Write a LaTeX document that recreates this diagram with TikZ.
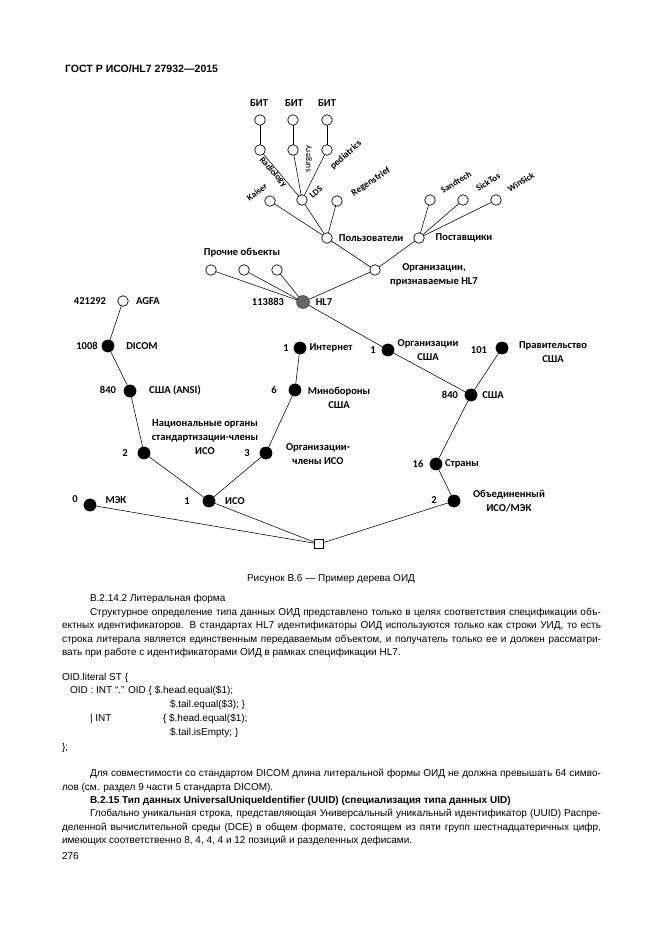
\documentclass[tikz,border=0pt]{standalone}
\usepackage{fontspec}
\setmainfont{Liberation Sans}
\newfontfamily\carl{Carlito}
\begin{document}
\begin{tikzpicture}[x=0.9pt,y=-0.9pt,
  every node/.style={inner sep=0pt,outer sep=0pt},
  bn/.style={circle,fill=black,minimum size=11.5pt},
  on/.style={circle,draw,fill=white,line width=0.6pt,minimum size=9.5pt},
  gn/.style={circle,fill=black!60,draw=black!75,line width=0.6pt,minimum size=11.5pt},
  rt/.style={rectangle,draw,fill=white,line width=0.6pt,minimum size=8.5pt},
  lb/.style={font=\carl\bfseries\fontsize{9.5}{12.5}\selectfont,align=center},
  rl/.style={font=\carl\bfseries\fontsize{8}{8}\selectfont},
  txt/.style={font=\fontsize{9}{11}\selectfont,anchor=base west},
  ed/.style={line width=0.5pt}]
\fill[white] (0,0) rectangle (661,935);
\useasboundingbox (0,0) rectangle (661,935);

% header
\node[txt,font=\bfseries\fontsize{9.5}{11}\selectfont] (hdr) at (65,72) {ГОСТ Р ИСО/HL7 27932—2015};

% ---- tree nodes ----
\node[on] (b1) at (260,120) {};
\node[on] (b2) at (293,120) {};
\node[on] (b3) at (327,120) {};
\node[on] (r1) at (260,150) {};
\node[on] (r2) at (293,150) {};
\node[on] (r3) at (327,150) {};
\node[on] (kai) at (270,201) {};
\node[on] (lds) at (302,200) {};
\node[on] (reg) at (337,201) {};
\node[on] (usr) at (327,238) {};
\node[on] (ven) at (419,238) {};
\node[on] (v1) at (430,200) {};
\node[on] (v2) at (463,200) {};
\node[on] (v3) at (496,200) {};
\node[on] (org) at (375,270) {};
\node[on] (p1) at (211,270) {};
\node[on] (p2) at (244,270) {};
\node[on] (p3) at (277,270) {};
\node[gn] (hl7) at (303,302) {};
\node[on] (agfa) at (123,301) {};
\node[bn] (dicom) at (108,346) {};
\node[bn] (ansi) at (130,391) {};
\node[bn] (nat) at (144,453) {};
\node[bn] (iso) at (209,501) {};
\node[bn] (iec) at (90,505) {};
\node[rt] (root) at (319,544) {};
\node[bn] (inet) at (300,348) {};
\node[bn] (dod) at (295,390) {};
\node[bn] (orgm) at (266,453) {};
\node[bn] (orgus) at (388,350) {};
\node[bn] (gov) at (502,348) {};
\node[bn] (us) at (471,395) {};
\node[bn] (ctr) at (436,464) {};
\node[bn] (joint) at (454,501) {};

% ---- edges ----
\draw[ed] (b1) -- (r1);
\draw[ed] (b2) -- (r2);
\draw[ed] (b3) -- (r3);
\draw[ed] (r1) -- (lds);
\draw[ed] (r2) -- (lds);
\draw[ed] (r3) -- (lds);
\draw[ed] (kai) -- (usr);
\draw[ed] (lds) -- (usr);
\draw[ed] (reg) -- (usr);
\draw[ed] (v1) -- (ven);
\draw[ed] (v2) -- (ven);
\draw[ed] (v3) -- (ven);
\draw[ed] (usr) -- (org);
\draw[ed] (ven) -- (org);
\draw[ed] (org) -- (hl7);
\draw[ed] (p1) -- (hl7);
\draw[ed] (p2) -- (hl7);
\draw[ed] (p3) -- (hl7);
\draw[ed] (hl7) -- (orgus);
\draw[ed] (orgus) -- (us);
\draw[ed] (gov) -- (us);
\draw[ed] (us) -- (ctr);
\draw[ed] (ctr) -- (joint);
\draw[ed] (joint) -- (root);
\draw[ed] (iso) -- (root);
\draw[ed] (iec) -- (root);
\draw[ed] (nat) -- (iso);
\draw[ed] (orgm) -- (iso);
\draw[ed] (ansi) -- (nat);
\draw[ed] (dicom) -- (ansi);
\draw[ed] (agfa) -- (dicom);
\draw[ed] (inet) -- (dod);
\draw[ed] (dod) -- (orgm);

% ---- labels ----
\node[lb] (lb1) at (259,103) {БИТ};
\node[lb] (lb2) at (294,103) {БИТ};
\node[lb] (lb3) at (327,103) {БИТ};
\node[rl,rotate=-48] (lrad) at (273,172) {Radiology};
\node[font=\carl\fontsize{8}{8}\selectfont,rotate=90] (lsur) at (309,159) {surgery};
\node[rl,rotate=42,font=\carl\bfseries\fontsize{8.5}{8.5}\selectfont] (lped) at (346,155) {pediatrics};
\node[rl,rotate=36] (lkai) at (257,192) {Kaiser};
\node[rl,rotate=40] (llds) at (316,192) {LDS};
\node[rl,rotate=34,font=\carl\bfseries\fontsize{8.5}{8.5}\selectfont] (lreg) at (371,182) {Regenstrief};
\node[rl,rotate=32] (lv1) at (456,182) {Sandtech};
\node[rl,rotate=32] (lv2) at (488,182) {SickTos};
\node[rl,rotate=32] (lv3) at (521,182) {WinSick};
\node[lb] (lusr) at (371,238) {Пользователи};
\node[lb] (lven) at (464,238) {Поставщики};
\node[lb] (lorg) at (434,275) {Организации,\\признаваемые HL7};
\node[lb] (lpr) at (242,253) {Прочие объекты};
\node[lb] (l113) at (268,302) {113883};
\node[lb] (lhl7) at (324,302) {HL7};
\node[lb] (l421) at (90,301) {421292};
\node[lb] (lagfa) at (148,301) {AGFA};
\node[lb] (l1008) at (87,346) {1008};
\node[lb] (ldicom) at (142,346) {DICOM};
\node[lb] (l1a) at (286,348) {1};
\node[lb] (linet) at (331,348) {Интернет};
\node[lb] (l1b) at (373,350) {1};
\node[lb] (lorgus) at (428,350) {Организации\\США};
\node[lb] (l101) at (479,350) {101};
\node[lb] (lgov) at (553,352) {Правительство\\США};
\node[lb] (l840b) at (450,395) {840};
\node[lb] (lus) at (493,395) {США};
\node[lb] (l6) at (274,390) {6};
\node[lb] (ldod) at (339,398) {Минобороны\\США};
\node[lb] (l840a) at (108,390) {840};
\node[lb] (lansi) at (175,390) {США (ANSI)};
\node[lb] (lnat) at (205,437) {Национальные органы\\стандартизации-члены\\ИСО};
\node[lb] (l2a) at (125,453) {2};
\node[lb] (l3) at (247,453) {3};
\node[lb] (lorgm) at (318,454) {Организации-\\члены ИСО};
\node[lb] (l0) at (75,499) {0};
\node[lb] (liec) at (116,500) {МЭК};
\node[lb] (l1c) at (187,501) {1};
\node[lb] (liso) at (235,501) {ИСО};
\node[lb] (l16) at (418,464) {16};
\node[lb] (lctr) at (462,464) {Страны};
\node[lb] (l2b) at (434,500) {2};
\node[lb] (ljoint) at (509,501) {Объединенный\\ИСО/МЭК};

% ---- caption and body text ----
\node[font=\fontsize{9}{11}\selectfont,anchor=base] (cap) at (331,581) {Рисунок В.6 — Пример дерева ОИД};
\node[txt] (t1) at (90,601) {В.2.14.2 Литеральная форма};
\node[txt] (t2) at (90,615) {\makebox[459.9pt][s]{Структурное определение типа данных ОИД представлено только в целях соответствия спецификации объ-}};
\node[txt] (t3) at (62,628) {\makebox[485.1pt][s]{ектных идентификаторов. В стандартах HL7 идентификаторы ОИД используются только как строки УИД, то есть}};
\node[txt] (t4) at (62,642) {\makebox[485.1pt][s]{строка литерала является единственным передаваемым объектом, и получатель только ее и должен рассматри-}};
\node[txt] (t5) at (62,655) {вать при работе с идентификаторами ОИД в рамках спецификации HL7.};

\node[txt] (c1) at (62,680) {OID.literal ST \{};
\node[txt] (c2) at (70,693) {OID : INT “.” OID \{ \$.head.equal(\$1);};
\node[txt] (c3) at (170,707) {\$.tail.equal(\$3); \}};
\node[txt] (c4) at (90,721) {| INT};
\node[txt] (c4b) at (163,721) {\{ \$.head.equal(\$1);};
\node[txt] (c5) at (170,735) {\$.tail.isEmpty; \}};
\node[txt] (c6) at (62,750) {\};};

\node[txt] (t6) at (90,776) {\makebox[459.9pt][s]{Для совместимости со стандартом DICOM длина литеральной формы ОИД не должна превышать 64 симво-}};
\node[txt] (t7) at (62,790) {лов (см. раздел 9 части 5 стандарта DICOM).};
\node[txt,font=\bfseries\fontsize{9}{11}\selectfont] (t8) at (90,803) {В.2.15 Тип данных UniversalUniqueIdentifier (UUID) (специализация типа данных UID)};
\node[txt] (t9) at (90,816) {\makebox[459.9pt][s]{Глобально уникальная строка, представляющая Универсальный уникальный идентификатор (UUID) Распре-}};
\node[txt] (t10) at (62,830) {\makebox[485.1pt][s]{деленной вычислительной среды (DCE) в общем формате, состоящем из пяти групп шестнадцатеричных цифр,}};
\node[txt] (t11) at (62,843) {имеющих соответственно 8, 4, 4, 4 и 12 позиций и разделенных дефисами.};
\node[txt] (pg) at (62,859) {276};
\end{tikzpicture}
\end{document}
